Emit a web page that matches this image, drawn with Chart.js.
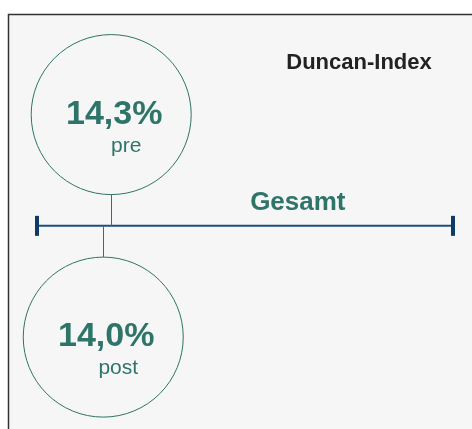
<!DOCTYPE html>
<html>
<head>
<meta charset="utf-8">
<script src="https://cdn.jsdelivr.net/npm/chart.js@4/dist/chart.umd.min.js"></script>
<style>
  body { margin: 0; background: #fff; }
  #wrap { width: 472px; height: 429px; }
</style>
</head>
<body>
<div id="wrap"><canvas id="chart" width="472" height="429"></canvas></div>
<script>
// chart data
const chartTitle = 'Duncan-Index';
const groupLabel = 'Gesamt';
const phases = ['pre', 'post'];
const values = [14.3, 14.0];
const valueLabels = ['14,3%', '14,0%'];
const scaleEnds = [11.5, 27.2];

const teal = '#2e7468';
const navy = '#0d3b66';

// bubbles above (pre) and below (post) the scale line
const side = [1, -1];

// draws panel, stems and texts
const infoPlugin = {
  id: 'info',
  beforeDraw(chart) {
    const ctx = chart.ctx;
    ctx.save();
    ctx.fillStyle = '#fff';
    ctx.fillRect(0, 0, chart.width, chart.height);
    ctx.fillStyle = '#f6f6f6';
    ctx.fillRect(8, 14, chart.width, chart.height);
    ctx.strokeStyle = '#333';
    ctx.lineWidth = 1.5;
    ctx.beginPath();
    ctx.moveTo(8.5, chart.height);
    ctx.lineTo(8.5, 14.5);
    ctx.lineTo(chart.width, 14.5);
    ctx.stroke();
    ctx.restore();
  },
  afterDatasetsDraw(chart) {
    const ctx = chart.ctx;
    const yAxis = chart.scales.y.getPixelForValue(0);
    const area = chart.chartArea;
    ctx.save();
    const meta = chart.getDatasetMeta(1);
    meta.data.forEach((el, i) => {
      const r = el.options.radius;
      // stem from circle to the line
      ctx.strokeStyle = teal;
      ctx.lineWidth = 1;
      ctx.beginPath();
      const sx = Math.round(el.x) + 0.5;
      ctx.moveTo(sx, side[i] > 0 ? el.y + r : el.y - r);
      ctx.lineTo(sx, yAxis);
      ctx.stroke();

      ctx.fillStyle = teal;
      ctx.textAlign = 'center';
      ctx.textBaseline = 'alphabetic';
      ctx.font = 'bold 34px "Liberation Sans", Arial, sans-serif';
      ctx.fillText(valueLabels[i], el.x + 3, el.y + 9);
      ctx.font = '21px "Liberation Sans", Arial, sans-serif';
      ctx.fillText(phases[i], el.x + 15, el.y + 37);
    });

    ctx.fillStyle = teal;
    ctx.textAlign = 'center';
    ctx.font = 'bold 26px "Liberation Sans", Arial, sans-serif';
    ctx.fillText(groupLabel, area.left + (area.right - area.left) * 0.627, yAxis - 16);

    ctx.fillStyle = '#222';
    ctx.font = 'bold 22px "Liberation Sans", Arial, sans-serif';
    ctx.fillText(chartTitle, 359, 69);
    ctx.restore();
  }
};

new Chart(document.getElementById('chart'), {
  data: {
    datasets: [
      {
        type: 'line',
        label: groupLabel,
        data: scaleEnds.map(v => ({ x: v, y: 0 })),
        borderColor: '#1f4e79',
        borderWidth: 2,
        pointStyle: 'line',
        rotation: 90,
        pointRadius: 10,
        pointBorderWidth: 4,
        pointBorderColor: navy,
        clip: false,
      },
      {
        type: 'bubble',
        label: chartTitle,
        data: values.map((v, i) => ({ x: v, y: side[i], r: 80 })),
        backgroundColor: 'rgba(0,0,0,0)',
        borderColor: teal,
        borderWidth: 1,
        clip: false,
      },
    ],
  },
  options: {
    responsive: false,
    animation: false,
    layout: { autoPadding: false, padding: { left: 37, right: 19, top: 0, bottom: 0 } },
    scales: {
      x: { type: 'linear', min: scaleEnds[0], max: scaleEnds[1], display: false },
      y: { type: 'linear', min: -1.826, max: 2.03, display: false },
    },
    plugins: {
      legend: { display: false },
      tooltip: { enabled: false },
    },
  },
  plugins: [infoPlugin],
});
</script>
</body>
</html>
